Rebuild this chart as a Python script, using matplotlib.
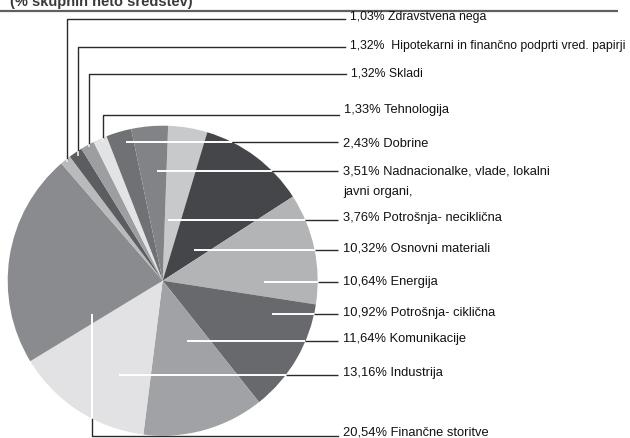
import numpy as np
import matplotlib
matplotlib.use("Agg")
from matplotlib import pyplot as plt

# sector split of the fund, clockwise from the top of the pie
sectors = ["Potrošnja- neciklična", "Osnovni materiali", "Energija",
           "Potrošnja- ciklična", "Komunikacije", "Industrija",
           "Finančne storitve", "Zdravstvena nega",
           " Hipotekarni in finančno podprti vred. papirji", "Skladi",
           "Tehnologija", "Dobrine",
           "Nadnacionalke, vlade, lokalni\njavni organi,"]
shares = [3.76, 10.32, 10.64, 10.92, 11.64, 13.16, 20.54,
          1.03, 1.32, 1.32, 1.33, 2.43, 3.51]
grays = ["#c8c9ca", "#454649", "#b2b4b6", "#68696d", "#a0a2a5", "#e2e2e4",
         "#8a8b8e", "#b8babc", "#5c5d61", "#9c9ea1", "#e2e3e5", "#707175",
         "#828386"]

title = "(% skupnih neto sredstev)"

W, H = 630, 439
CX, CY, R = 162.7, 281.7, 155.0


def Y(v):
    # work in top-down pixel rows
    return H - v


# label layout: text row, leader row, leader kind ("h" = horizontal from x,
# "v" = down at x to a row, "f" = up at x from a row), text x, font size
layout = [
    (218, 221, "h", 168, None, 343, 9.3),
    (249, 251, "h", 194, None, 343, 9.3),
    (282, 283, "h", 264, None, 343, 9.3),
    (313, 315, "h", 272, None, 343, 9.3),
    (339, 342, "h", 187, None, 343, 9.3),
    (373, 376, "h", 119, None, 343, 9.3),
    (433, 437, "f", 92, 315, 343, 9.3),
    (17, 20, "v", 67, 163, 350, 8.8),
    (46, 48, "v", 78, 157, 350, 8.8),
    (73, 75, "v", 89, 148, 351, 8.8),
    (110, 116, "v", 103, 143, 344, 9.3),
    (143, 143, "h", 126, None, 343, 9.3),
    (172, 172, "h", 157, None, 343, 9.3),
]

fam = ["Liberation Sans", "DejaVu Sans"]
ink = "#2a2a2a"

fig = plt.figure(figsize=(W / 100, H / 100), dpi=100)
ax = fig.add_axes([0, 0, 1, 1])

ax.pie(shares, colors=grays, startangle=88, counterclock=False,
       center=(CX, Y(CY)), radius=R, wedgeprops=dict(linewidth=0))
ax.set_xlim(0, W)
ax.set_ylim(0, H)
ax.set_aspect("equal")
ax.set_axis_off()

for name, val, (ty, ly, kind, sx, sy, tx, fs) in zip(sectors, shares, layout):
    xend = tx - 5
    if kind == "h":
        xe = CX + np.sqrt(R ** 2 - (ly - CY) ** 2)
        ax.plot([sx, xe], [Y(ly), Y(ly)], color="white", lw=1.4,
                solid_capstyle="butt")
        ax.plot([xe, xend], [Y(ly), Y(ly)], color=ink, lw=1.0,
                solid_capstyle="butt")
    elif kind == "v":
        ye = CY - np.sqrt(R ** 2 - (sx - CX) ** 2)
        ax.plot([xend, sx, sx], [Y(ly), Y(ly), Y(ye)], color=ink, lw=1.0)
        ax.plot([sx, sx], [Y(ye), Y(sy)], color="#eeeeee", lw=1.2,
                solid_capstyle="butt")
    else:
        ye = CY + np.sqrt(R ** 2 - (sx - CX) ** 2)
        ax.plot([sx, sx], [Y(sy), Y(ye)], color="white", lw=1.4,
                solid_capstyle="butt")
        ax.plot([sx, sx, xend], [Y(ye), Y(ly), Y(ly)], color=ink, lw=1.0)

    pct = f"{val:.2f}".replace(".", ",") + "%"
    lines = (pct + " " + name).split("\n")
    for k, line in enumerate(lines):
        ax.text(tx, Y(ty + 20 * k), line, fontsize=fs, family=fam,
                color="#111111", ha="left", va="center")

# heading and rule at the top
ax.text(10, Y(6), title, fontsize=10.5, family=fam, fontweight="bold",
        color="#3a3a3a", ha="left", va="baseline")
ax.plot([0, 618], [Y(11.5), Y(11.5)], color="#606060", lw=1.6,
        solid_capstyle="butt")

fig.savefig("out.png", dpi=100)
